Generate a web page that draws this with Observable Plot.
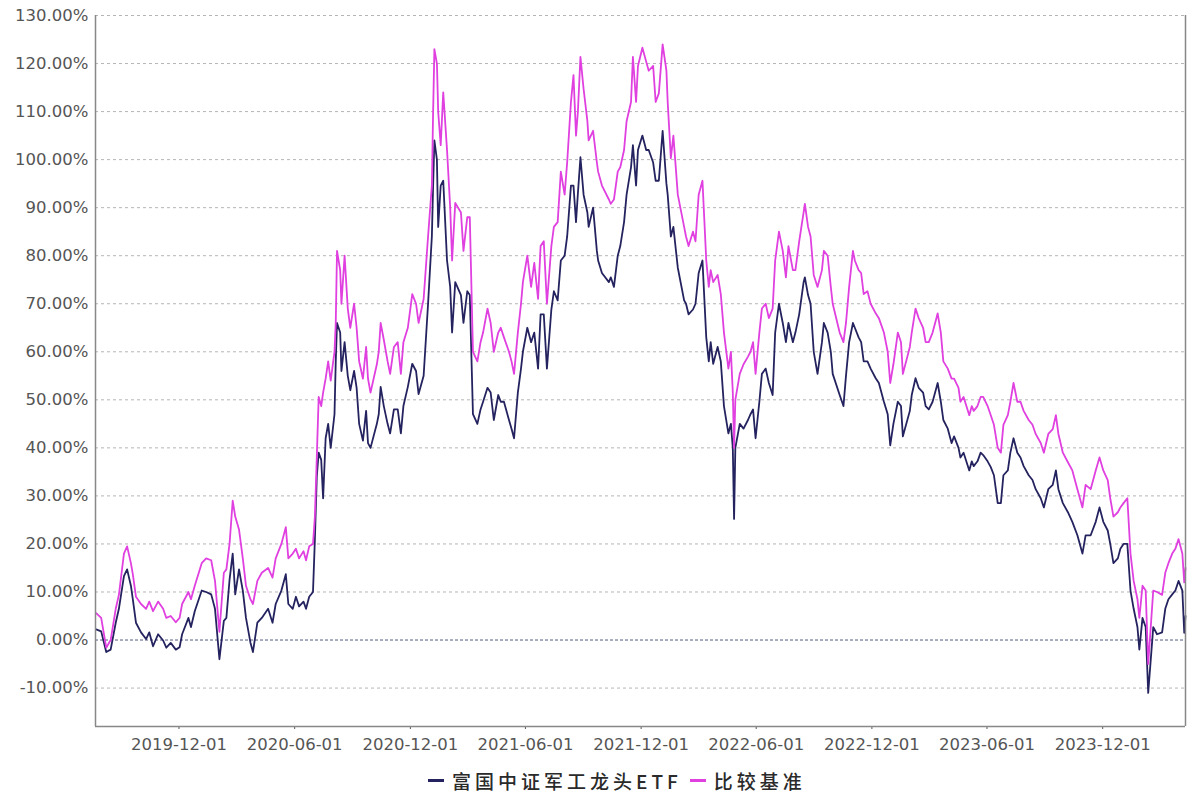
<!DOCTYPE html>
<html><head><meta charset="utf-8">
<script src="https://cdn.jsdelivr.net/npm/d3@7"></script>
<script src="https://cdn.jsdelivr.net/npm/@observablehq/plot@0.6"></script>
<style>
body{margin:0;background:#fff;}
#wrap{position:relative;width:1189px;height:799px;}
#legend{position:absolute;left:428px;top:767px;display:flex;align-items:center;font-family:"Noto Sans CJK SC",sans-serif;font-size:19px;font-weight:500;color:#2a2a2a;letter-spacing:4px;white-space:nowrap;}
#legend .sw{display:inline-block;width:16px;height:3px;margin-right:8px;}
#legend .item{display:flex;align-items:center;margin-right:8px;}
</style></head><body><div id="wrap"><div id="chart"></div><div id="legend"></div></div>
<script>
const dates=["2019-07-23","2019-07-31","2019-08-08","2019-08-15","2019-08-23","2019-08-28","2019-09-05","2019-09-10","2019-09-16","2019-09-19","2019-09-24","2019-10-02","2019-10-10","2019-10-15","2019-10-21","2019-10-29","2019-11-06","2019-11-11","2019-11-18","2019-11-26","2019-12-02","2019-12-06","2019-12-16","2019-12-20","2019-12-26","2020-01-06","2020-01-13","2020-01-21","2020-01-27","2020-02-03","2020-02-10","2020-02-14","2020-02-19","2020-02-24","2020-02-28","2020-03-05","2020-03-11","2020-03-16","2020-03-23","2020-03-27","2020-04-03","2020-04-10","2020-04-20","2020-04-27","2020-05-02","2020-05-11","2020-05-18","2020-05-22","2020-05-29","2020-06-03","2020-06-08","2020-06-15","2020-06-19","2020-06-24","2020-06-30","2020-07-03","2020-07-06","2020-07-09","2020-07-13","2020-07-16","2020-07-20","2020-07-24","2020-07-28","2020-08-03","2020-08-05","2020-08-07","2020-08-12","2020-08-14","2020-08-19","2020-08-24","2020-08-28","2020-09-03","2020-09-07","2020-09-11","2020-09-17","2020-09-22","2020-09-25","2020-09-29","2020-10-09","2020-10-12","2020-10-15","2020-10-20","2020-10-26","2020-10-30","2020-11-05","2020-11-11","2020-11-16","2020-11-20","2020-11-27","2020-12-04","2020-12-10","2020-12-14","2020-12-22","2020-12-29","2021-01-04","2021-01-06","2021-01-08","2021-01-12","2021-01-14","2021-01-18","2021-01-22","2021-01-28","2021-02-02","2021-02-05","2021-02-10","2021-02-19","2021-02-23","2021-03-01","2021-03-05","2021-03-10","2021-03-17","2021-03-22","2021-03-26","2021-04-02","2021-04-07","2021-04-12","2021-04-19","2021-04-23","2021-04-28","2021-05-06","2021-05-10","2021-05-14","2021-05-20","2021-05-25","2021-05-28","2021-06-04","2021-06-10","2021-06-15","2021-06-21","2021-06-25","2021-06-30","2021-07-05","2021-07-12","2021-07-16","2021-07-22","2021-07-27","2021-08-02","2021-08-06","2021-08-12","2021-08-16","2021-08-20","2021-08-23","2021-08-27","2021-09-01","2021-09-07","2021-09-09","2021-09-16","2021-09-22","2021-09-24","2021-09-30","2021-10-11","2021-10-14","2021-10-19","2021-10-25","2021-10-29","2021-11-04","2021-11-08","2021-11-15","2021-11-18","2021-11-23","2021-11-26","2021-12-03","2021-12-09","2021-12-13","2021-12-20","2021-12-24","2021-12-29","2022-01-04","2022-01-10","2022-01-12","2022-01-17","2022-01-21","2022-01-28","2022-02-07","2022-02-10","2022-02-14","2022-02-21","2022-02-25","2022-03-02","2022-03-08","2022-03-14","2022-03-18","2022-03-21","2022-03-25","2022-04-01","2022-04-06","2022-04-11","2022-04-18","2022-04-22","2022-04-25","2022-04-27","2022-04-29","2022-05-06","2022-05-12","2022-05-19","2022-05-23","2022-05-27","2022-05-31","2022-06-06","2022-06-10","2022-06-16","2022-06-21","2022-06-27","2022-07-01","2022-07-07","2022-07-13","2022-07-18","2022-07-22","2022-07-29","2022-08-02","2022-08-08","2022-08-15","2022-08-17","2022-08-22","2022-08-26","2022-08-31","2022-09-06","2022-09-13","2022-09-16","2022-09-22","2022-09-27","2022-09-30","2022-10-11","2022-10-17","2022-10-21","2022-10-26","2022-11-01","2022-11-04","2022-11-10","2022-11-14","2022-11-18","2022-11-24","2022-11-29","2022-12-07","2022-12-12","2022-12-20","2022-12-26","2022-12-30","2023-01-04","2023-01-11","2023-01-16","2023-01-19","2023-01-30","2023-02-02","2023-02-08","2023-02-13","2023-02-20","2023-02-24","2023-03-01","2023-03-07","2023-03-13","2023-03-15","2023-03-20","2023-03-24","2023-03-31","2023-04-06","2023-04-10","2023-04-17","2023-04-20","2023-04-25","2023-05-04","2023-05-08","2023-05-11","2023-05-17","2023-05-22","2023-05-26","2023-06-02","2023-06-07","2023-06-12","2023-06-18","2023-06-23","2023-06-27","2023-07-04","2023-07-08","2023-07-13","2023-07-19","2023-07-24","2023-07-29","2023-08-06","2023-08-12","2023-08-17","2023-08-25","2023-08-30","2023-09-06","2023-09-13","2023-09-18","2023-09-22","2023-09-29","2023-10-07","2023-10-14","2023-10-22","2023-10-30","2023-11-04","2023-11-12","2023-11-20","2023-11-26","2023-12-02","2023-12-09","2023-12-13","2023-12-18","2023-12-25","2023-12-29","2024-01-03","2024-01-09","2024-01-14","2024-01-19","2024-01-25","2024-01-28","2024-02-02","2024-02-07","2024-02-11","2024-02-19","2024-02-25","2024-03-04","2024-03-09","2024-03-14","2024-03-20","2024-03-25","2024-03-30","2024-04-05","2024-04-08","2024-04-10"];
const etf=[2.2,1.8,-2.5,-2,3.6,6.5,13.3,14.7,11.3,8.5,3.6,1.6,0.2,1.6,-1.3,1.2,-0.1,-1.6,-0.6,-2,-1.5,1.2,4.6,2.7,6,10.3,10,9.5,6.5,-4,4,4.6,12.5,18,9.5,14.7,10.3,4.6,-0.5,-2.5,3.6,4.6,6.5,3.6,7.5,10.3,13.7,7.5,6.5,9,7,8,6.5,9,10,21,34,39,37.5,29.5,42,45,40,47,58,66,64,56,62,55,52,56,52.5,45,41.5,47.7,41,40,45,47,52.7,48.7,45,43,48,48,43,48.7,52.7,57.5,56,51.2,55,70,84,94.6,104,100,86,94.6,95.6,79,73.5,64,74.5,71.8,66,72.6,71.8,47,45,48,49.6,52.5,51.5,45.8,51,49.6,49.6,45.8,44,42,51.5,56.5,60,65,62,64,56.5,67.8,67.8,56.5,68.8,72.6,70.7,79,80,84,94.6,94.6,87,93,100.5,92.7,89,86,90,81,79,76.4,74.5,75.5,73.5,80,82,87,92.7,98.4,103,94.6,102,105,102,102,99.4,95.6,95.6,106,95,92.7,84,86,77.5,70.7,70,67.8,68.8,70,76.4,79,63,58,62,57.5,61,58,48.7,43,45,40,25.2,40,45,44,45.8,47,48,42,49.6,55.4,56.5,53.5,51,64,70,66,62,66,62,64,67.8,74.5,75.5,71.8,70,60,55.4,62,66,64,60,55.4,51,48.7,55,62,66,65,63,62,58,58,56.5,54.5,53.5,49.6,47,40.5,45,49.6,48.7,42.4,47.7,51,54.5,52.5,51.5,48.7,48,49.6,52.5,53.5,49.6,45.8,44,41,42.4,40,38,39,35.3,37.2,36.2,37.2,39,38.5,37.2,36,34.3,28.5,28.5,34.3,35.3,39,42,39,38,36.2,34.3,33.3,31.4,29.5,27.6,31.4,32.3,35.3,31.4,28.5,26.6,24.6,21.8,18,21.8,21.8,24.6,27.6,24.6,22.8,20,16,17,19,20,20,10.3,6.5,2.7,-2,4.6,2.7,-11,2.7,1.2,1.6,6.5,8.5,9.5,10.3,12.3,10.3,1.5,5];
const bench=[5.6,4.6,-1.6,0,6.5,9.4,18,19.5,16,13.7,9,7.5,6.5,8,6,8,6.5,4.6,5,3.7,4.6,7.5,10,8.5,11.3,16,17,16.6,12.3,1.7,14,14.7,20,29,25.7,23,17,11.3,8.5,7.5,12.3,14,15,13,17,20,23.5,17,18,19,17,18.5,16.6,19.5,20,25.7,38,50.6,48.7,51.5,54.4,58,54,60,66,81,77,70,80,69,65,70,65,58,54.4,61,54.4,51.5,57.4,60,66,62.5,58,55.4,61,62,55.4,62,65,72,70,66,71,84,94.6,110,123,120,110,103,114,102,90,79,91,89,81,88,88,60,58,62,64,69,66,60,64,65,63,60,58,55.4,64,70,74.5,80,73.5,78.5,71,82,83,70,82,86,87,97.5,92.7,99.4,112,117.6,105,110,121.4,114.7,108,104,106,99.4,97.5,94.6,91.7,90.8,91.7,97.5,98.4,102,108,112,121.4,112,119.5,123.3,120.4,118.5,119.5,112,113.8,124,118.5,112,100.3,105,92.7,86,84,82,85,83,92.7,95.6,79,73.5,77,74.5,76,72,64,56.5,60,51.5,40,50,55.4,57.4,59,60,62,55.4,64,69,70,67,69,79,85,81,75.5,82,77,77,83,89,90.8,86,84,76,73.5,77,81,80,73.5,70,64,62,66,73.5,81,79,77,76.4,72,72.6,70,68,67,64,60,53.5,57.4,64,62,55.4,61,64,69,67,65,62,62,64,67,68,64,58,56.5,54.4,54.4,52.5,49.6,50.6,46.8,48.7,47.7,48.7,50.6,50.6,48.7,46.8,44.8,40,39,44.8,46.8,49.6,53.5,49.6,49.6,47.7,45.8,44.8,42.9,41,39,42.9,43.9,46.8,42.9,39,37,35.3,31.4,27.6,32.3,31.4,35.3,38,35.3,33.3,29.5,25.7,26.6,27.6,28.5,29.5,18,12.3,8.5,4.6,11.3,10.3,-5,10.3,10,9.4,14,16,18,19,21,18,12,15];
const yTicks=[-10,0,10,20,30,40,50,60,70,80,90,100,110,120,130];
const xTickLabels=["2019-12-01","2020-06-01","2020-12-01","2021-06-01","2021-12-01","2022-06-01","2022-12-01","2023-06-01","2023-12-01"];
const seriesNames=["富国中证军工龙头ETF","比较基准"];
const seriesColors=["#24235f","#e040e0"];
const xDomain=["2019-07-22","2024-04-10"];
const yDomain=[-18,130];

const parse=d3.utcParse("%Y-%m-%d");
const rows=[];
dates.forEach((d,i)=>{
  rows.push({date:parse(d),value:etf[i],series:seriesNames[0]});
});
dates.forEach((d,i)=>{
  rows.push({date:parse(d),value:bench[i],series:seriesNames[1]});
});
const xd=xDomain.map(parse);

const chart=Plot.plot({
  width:1189,height:760,
  marginLeft:95,marginRight:4,marginTop:15,marginBottom:34,
  style:{fontFamily:"'DejaVu Sans',sans-serif",fontSize:"16.5px",color:"#555",background:"#fff"},
  x:{type:"utc",domain:xd,ticks:xTickLabels.map(parse),tickFormat:d3.utcFormat("%Y-%m-%d"),tickSize:3,tickPadding:9,label:null},
  y:{domain:yDomain,ticks:yTicks,tickFormat:d=>d.toFixed(2)+"%",tickSize:0,tickPadding:7,label:null},
  color:{domain:seriesNames,range:seriesColors},
  marks:[
    Plot.ruleY(yTicks.filter(t=>t!==0),{stroke:"#b5b5b5",strokeDasharray:"3,3",strokeWidth:1}),
    Plot.ruleY([0],{stroke:"#555a80",strokeDasharray:"3,2",strokeWidth:1}),
    Plot.lineY(rows,{x:"date",y:"value",stroke:"series",strokeWidth:1.8,curve:"linear"}),
    Plot.ruleX(xd,{stroke:"#888",strokeWidth:1.5}),
    Plot.ruleY([yDomain[0]],{stroke:"#888",strokeWidth:1.5})
  ]
});
document.getElementById("chart").appendChild(chart);

const lg=document.getElementById("legend");
seriesNames.forEach((n,i)=>{
  const it=document.createElement("span");it.className="item";
  const sw=document.createElement("span");sw.className="sw";sw.style.background=seriesColors[i];
  const tx=document.createElement("span");tx.textContent=n;
  it.appendChild(sw);it.appendChild(tx);lg.appendChild(it);
});
</script></body></html>
